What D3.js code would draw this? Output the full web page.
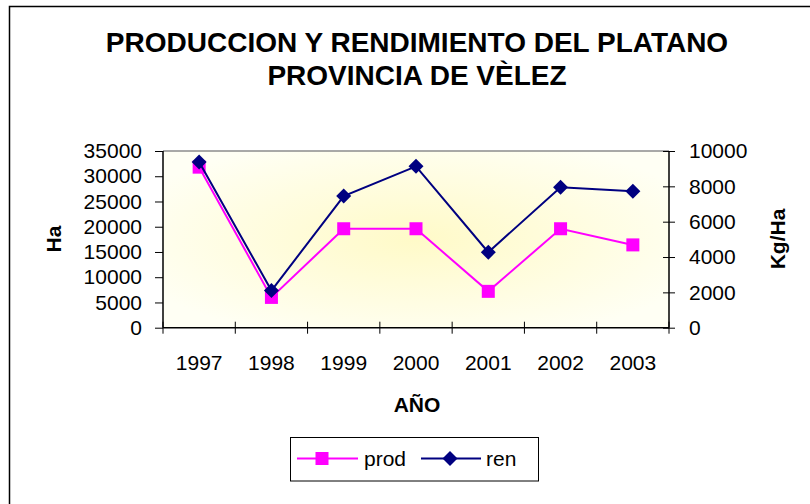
<!DOCTYPE html>
<html>
<head>
<meta charset="utf-8">
<script src="https://cdn.jsdelivr.net/npm/d3@7"></script>
<style>
  html, body { margin: 0; padding: 0; background: #fff; }
  svg { display: block; font-family: "Liberation Sans", Arial, sans-serif; }
</style>
</head>
<body>
<svg id="chart" width="810" height="504"></svg>
<script>
const years = ["1997", "1998", "1999", "2000", "2001", "2002", "2003"];
const prod = [31800, 6000, 19600, 19600, 7200, 19600, 16400];
const ren = [9380, 2100, 7450, 9130, 4270, 7950, 7720];
const leftTicks = [0, 5000, 10000, 15000, 20000, 25000, 30000, 35000];
const rightTicks = [0, 2000, 4000, 6000, 8000, 10000];
const titleLines = ["PRODUCCION Y RENDIMIENTO DEL PLATANO", "PROVINCIA DE VÈLEZ"];
const seriesNames = ["prod", "ren"];

const svg = d3.select("#chart");
const plot = { left: 163, right: 669, top: 151, bottom: 327.7 };

// outer frame
svg.append("rect").attr("x", 9.5).attr("y", 6.5).attr("width", 840).attr("height", 540)
  .attr("fill", "#fff").attr("stroke", "#000").attr("stroke-width", 1.5);

// title
const title = svg.append("text").attr("text-anchor", "middle")
  .attr("font-weight", "bold").attr("font-size", 28).attr("fill", "#000");
titleLines.forEach((t, i) => {
  title.append("tspan").attr("x", 417).attr("y", 52 + i * 33).text(t);
});

// gradient
const defs = svg.append("defs");
const grad = defs.append("radialGradient").attr("id", "bg")
  .attr("cx", "0.5").attr("cy", "0.5").attr("r", "0.6");
grad.append("stop").attr("offset", "0%").attr("stop-color", "#FFFAC8");
grad.append("stop").attr("offset", "100%").attr("stop-color", "#FFFFF4");

const x = d3.scaleBand().domain(years).range([plot.left, plot.right]).padding(0);
const yL = d3.scaleLinear().domain([0, 35000]).range([plot.bottom, plot.top]);
const yR = d3.scaleLinear().domain([0, 10000]).range([plot.bottom, plot.top]);

svg.append("rect").attr("x", plot.left).attr("y", plot.top)
  .attr("width", plot.right - plot.left).attr("height", plot.bottom - plot.top)
  .attr("fill", "url(#bg)");
svg.append("line").attr("x1", plot.left).attr("x2", plot.right)
  .attr("y1", plot.top).attr("y2", plot.top).attr("stroke", "#8c8c8c").attr("stroke-width", 1.5);

const gL = svg.append("g").attr("transform", `translate(${plot.left},0)`)
  .call(d3.axisLeft(yL).tickValues(leftTicks).tickSize(8).tickPadding(13).tickFormat(d3.format("d")));
const gR = svg.append("g").attr("transform", `translate(${plot.right},0)`)
  .call(d3.axisRight(yR).tickValues(rightTicks).tickSize(6).tickPadding(14).tickFormat(d3.format("d")));
gR.selectAll(".tick line").attr("x1", -6).attr("x2", 6);
const gB = svg.append("g").attr("transform", `translate(0,${plot.bottom})`)
  .call(d3.axisBottom(x).tickSize(0).tickPadding(27));
const bounds = years.map(y => x(y)).concat([x(years[years.length - 1]) + x.bandwidth()]);
gB.selectAll(".bnd").data(bounds).enter().append("line").attr("class", "bnd")
  .attr("x1", d => d).attr("x2", d => d).attr("y1", -6).attr("y2", 6)
  .attr("stroke", "#000").attr("stroke-width", 1);

[gL, gR, gB].forEach(g => {
  g.selectAll("path.domain").attr("stroke", "#000").attr("stroke-width", 1.5);
  g.selectAll(".tick line").attr("stroke", "#000");
  g.selectAll("text").attr("font-size", 21).attr("fill", "#000")
    .attr("font-family", "'Liberation Sans', Arial, sans-serif");
});
gL.select("path.domain").attr("d", `M0,${plot.top}V${plot.bottom}`);
gR.select("path.domain").attr("d", `M0,${plot.top}V${plot.bottom}`);
gB.select("path.domain").attr("d", `M${plot.left},0H${plot.right}`);

svg.append("text").attr("x", 417).attr("y", 412).attr("text-anchor", "middle")
  .attr("font-weight", "bold").attr("font-size", 21).text("AÑO");
svg.append("text").attr("transform", `translate(61,239) rotate(-90)`).attr("text-anchor", "middle")
  .attr("font-weight", "bold").attr("font-size", 21).text("Ha");
svg.append("text").attr("transform", `translate(785,239) rotate(-90)`).attr("text-anchor", "middle")
  .attr("font-weight", "bold").attr("font-size", 21).text("Kg/Ha");

const cx = d => x(d) + x.bandwidth() / 2;
const colors = { prod: "#FF00FF", ren: "#000080" };

svg.append("path").datum(prod)
  .attr("d", d3.line().x((d, i) => cx(years[i])).y(d => yL(d)))
  .attr("fill", "none").attr("stroke", colors.prod).attr("stroke-width", 2);
svg.selectAll(".sq").data(prod).enter().append("rect").attr("class", "sq")
  .attr("x", (d, i) => cx(years[i]) - 6.5).attr("y", d => yL(d) - 6.5)
  .attr("width", 13).attr("height", 13).attr("fill", colors.prod);

svg.append("path").datum(ren)
  .attr("d", d3.line().x((d, i) => cx(years[i])).y(d => yR(d)))
  .attr("fill", "none").attr("stroke", colors.ren).attr("stroke-width", 2);
const diamond = (cxv, cyv, r) => `M${cxv},${cyv - r}L${cxv + r},${cyv}L${cxv},${cyv + r}L${cxv - r},${cyv}Z`;
svg.selectAll(".dm").data(ren).enter().append("path").attr("class", "dm")
  .attr("d", (d, i) => diamond(cx(years[i]), yR(d), 7.5)).attr("fill", colors.ren);

const lg = svg.append("g");
lg.append("rect").attr("x", 290.5).attr("y", 437.5).attr("width", 248).attr("height", 43.5)
  .attr("fill", "#fff").attr("stroke", "#000").attr("stroke-width", 1);
const ly = 458.5;
const items = [
  { name: seriesNames[0], x0: 297, x1: 358, mx: 322, tx: 364 },
  { name: seriesNames[1], x0: 421, x1: 481, mx: 450, tx: 486 }
];
items.forEach(it => {
  lg.append("line").attr("x1", it.x0).attr("x2", it.x1).attr("y1", ly).attr("y2", ly)
    .attr("stroke", colors[it.name]).attr("stroke-width", 2);
  if (it.name === "prod") {
    lg.append("rect").attr("x", it.mx - 6.5).attr("y", ly - 6.5).attr("width", 13).attr("height", 13)
      .attr("fill", colors.prod);
  } else {
    lg.append("path").attr("d", diamond(it.mx, ly, 7.5)).attr("fill", colors.ren);
  }
  lg.append("text").attr("x", it.tx).attr("y", ly + 7.5).attr("font-size", 21).text(it.name);
});
</script>
</body>
</html>
